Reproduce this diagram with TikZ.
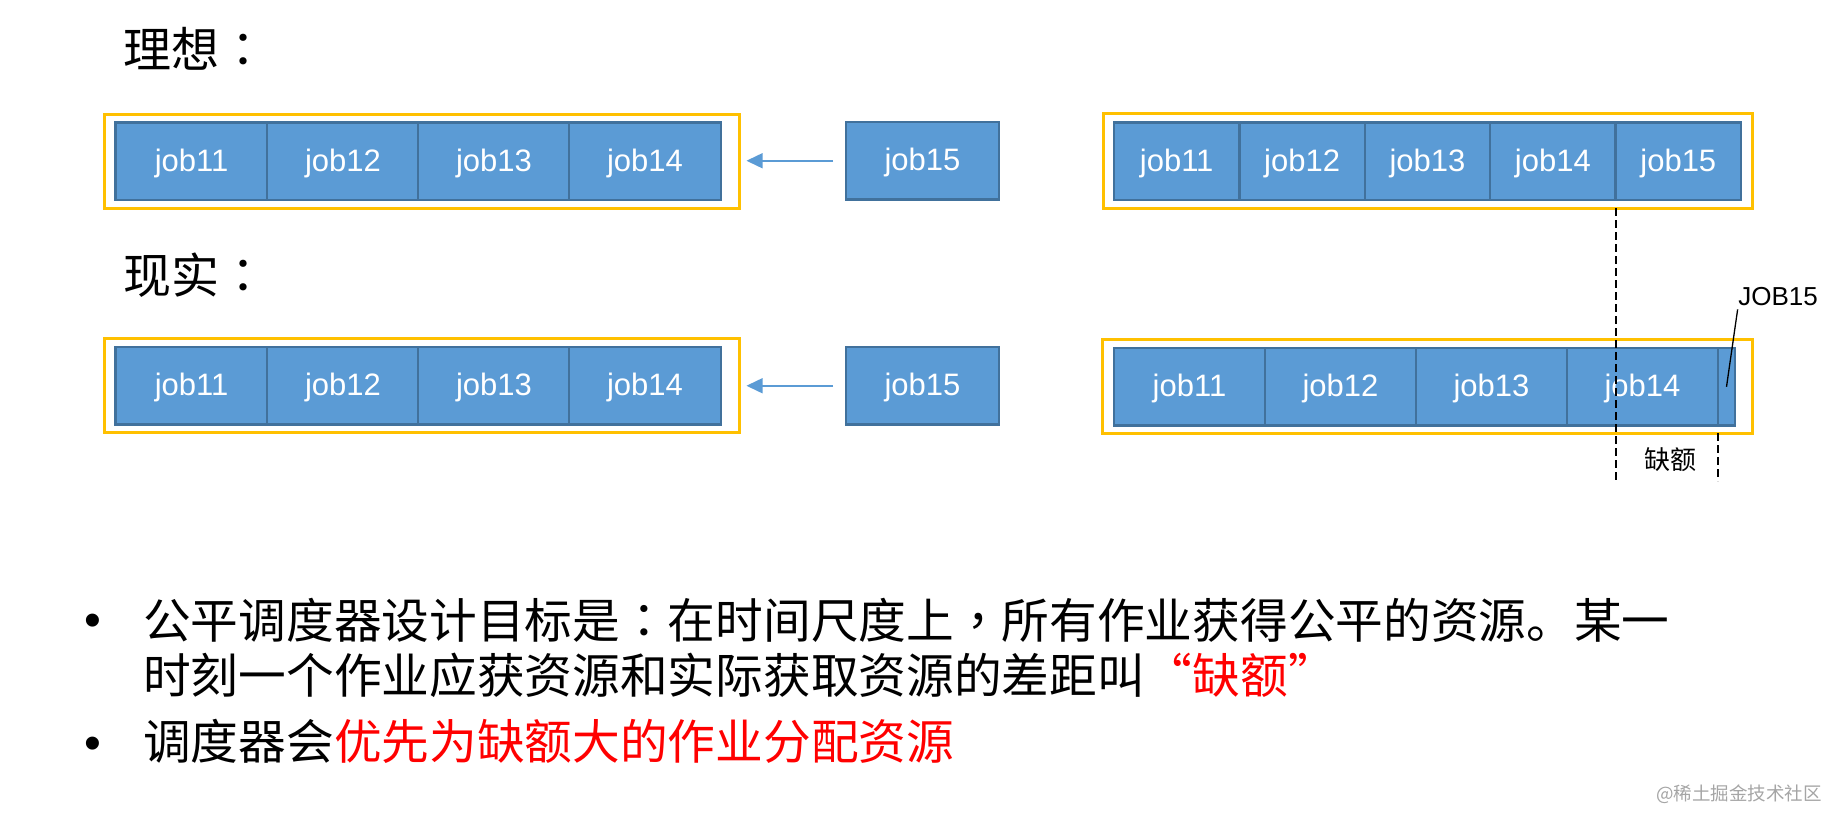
\documentclass[tikz,border=0pt]{standalone}
\usepackage{xcolor}
\usepackage{fontspec}
\setmainfont{Liberation Sans}
\newfontfamily\cjk{Noto Sans CJK SC}
\newfontfamily\cjkmid{Noto Sans CJK TC}
\usepackage{tikz}
\usetikzlibrary{arrows.meta,positioning}
\definecolor{jobblue}{RGB}{91,155,213}
\definecolor{jobedge}{RGB}{65,113,156}
\definecolor{frameyellow}{RGB}{255,192,0}
\definecolor{quotared}{RGB}{255,0,0}
\definecolor{creditgray}{RGB}{165,165,165}
% centred full-width punctuation
\newcommand{\midcolon}{{\cjkmid ：}}
\newcommand{\midcomma}{{\cjkmid ，}}

\tikzset{
    jobbox/.style={draw=jobedge, fill=jobblue, line width=2.5pt, text=white,
        font=\fontsize{31}{37}\selectfont, minimum height=77.5pt,
        text height=19.5pt, text depth=0pt,
        inner sep=0pt, outer sep=0pt, anchor=north west},
    frame/.style={draw=frameyellow, line width=3pt, inner sep=0pt,
        outer sep=0pt, anchor=north west},
    feed/.style={draw=jobblue, line width=1.5pt,
        -{Triangle[length=16pt,width=15pt]}, shorten <=13pt, shorten >=7pt},
    gapline/.style={draw=black, line width=1.8pt, dash pattern=on 8pt off 4pt},
    leader/.style={draw=black, line width=1.3pt, shorten <=3pt},
    heading/.style={font=\cjk\fontsize{48}{58}\selectfont, anchor=base west, inner sep=0pt},
    bodytext/.style={font=\cjk\fontsize{47.7}{57}\selectfont, anchor=base west, inner sep=0pt},
    bulletdot/.style={font=\fontsize{48}{54}\selectfont, anchor=base, inner sep=0pt},
    smalllabel/.style={font=\cjk\fontsize{26}{30}\selectfont, inner sep=0pt},
    tag/.style={font=\fontsize{26}{30}\selectfont, inner sep=0pt},
    credit/.style={font=\cjk\fontsize{18.5}{22}\selectfont, text=creditgray, inner sep=0pt}
}

\begin{document}
\begin{tikzpicture}[x=1pt, y=-1pt]
    \useasboundingbox (0,0) rectangle (1844,827);
    % headings
    \node[heading] (idealhead) at (123,67) {理想\midcolon};
    \node[heading] (realhead) at (123,293) {现实\midcolon};

    % ideal: queue and waiting job
    \node[frame, minimum width=635pt, minimum height=94pt] (idealframe) at (104.5,114) {};
    \foreach \j/\x in {11/115.6,12/267,13/418,14/569} {
        \node[jobbox, minimum width=152pt] (i\j) at (\x,122.5) {job\j};
    }
    \node[jobbox, minimum width=153pt] (inew) at (846,122) {job15};
    \draw[feed] (inew.west) -- (inew.west -| idealframe.east);

    % ideal: result
    \node[frame, minimum width=649.5pt, minimum height=95pt] (tidealframe) at (1103,113) {};
    \foreach \j in {11,...,15} {
        \node[jobbox, minimum width=125.4pt] (ti\j) at ({1114+125.4*(\j-11)},122.5) {job\j};
    }

    % real: queue and waiting job
    \node[frame, minimum width=635pt, minimum height=94pt] (realframe) at (104.5,338) {};
    \foreach \j/\x in {11/115.6,12/267,13/418,14/569} {
        \node[jobbox, minimum width=152pt] (r\j) at (\x,347) {job\j};
    }
    \node[jobbox, minimum width=153pt] (rnew) at (846,347) {job15};
    \draw[feed] (rnew.west) -- (rnew.west -| realframe.east);

    % real: result
    \node[frame, minimum width=650pt, minimum height=94pt] (trealframe) at (1102,339) {};
    \foreach \j/\x in {11/1114,12/1265,13/1416,14/1567} {
        \node[jobbox, minimum width=151pt] (tr\j) at (\x,348) {job\j};
    }
    \node[jobbox, minimum width=17pt] (tr15) at (1718,348) {};

    % quota marks
    \coordinate (gapend) at (0,481);
    \draw[gapline] (ti15.west |- tidealframe.south) -- (ti15.west |- gapend);
    \draw[gapline] (tr15.west |- trealframe.south) -- (tr15.west |- gapend);
    \node[smalllabel] (quota) at (1670,460) {缺额};
    \node[tag] (jobtag) at (1778,297) {JOB15};
    \draw[leader] (jobtag.south west) -- (tr15.center);

    % notes
    \node[bulletdot] (b1) at (93,636) {•};
    \node[bulletdot] (b2) at (93,759) {•};
    \node[bodytext] (line1) at (143,638) {公平调度器设计目标是\midcolon 在时间尺度上\midcomma 所有作业获得公平的资源。某一};
    \node[bodytext] (line2) at (143,693) {时刻一个作业应获资源和实际获取资源的差距叫\textcolor{quotared}{“缺额”}};
    \node[bodytext] (line3) at (143,759) {调度器会\textcolor{quotared}{优先为缺额大的作业分配资源}};
    \node[credit] (mark) at (1739,794) {@稀土掘金技术社区};
\end{tikzpicture}
\end{document}
